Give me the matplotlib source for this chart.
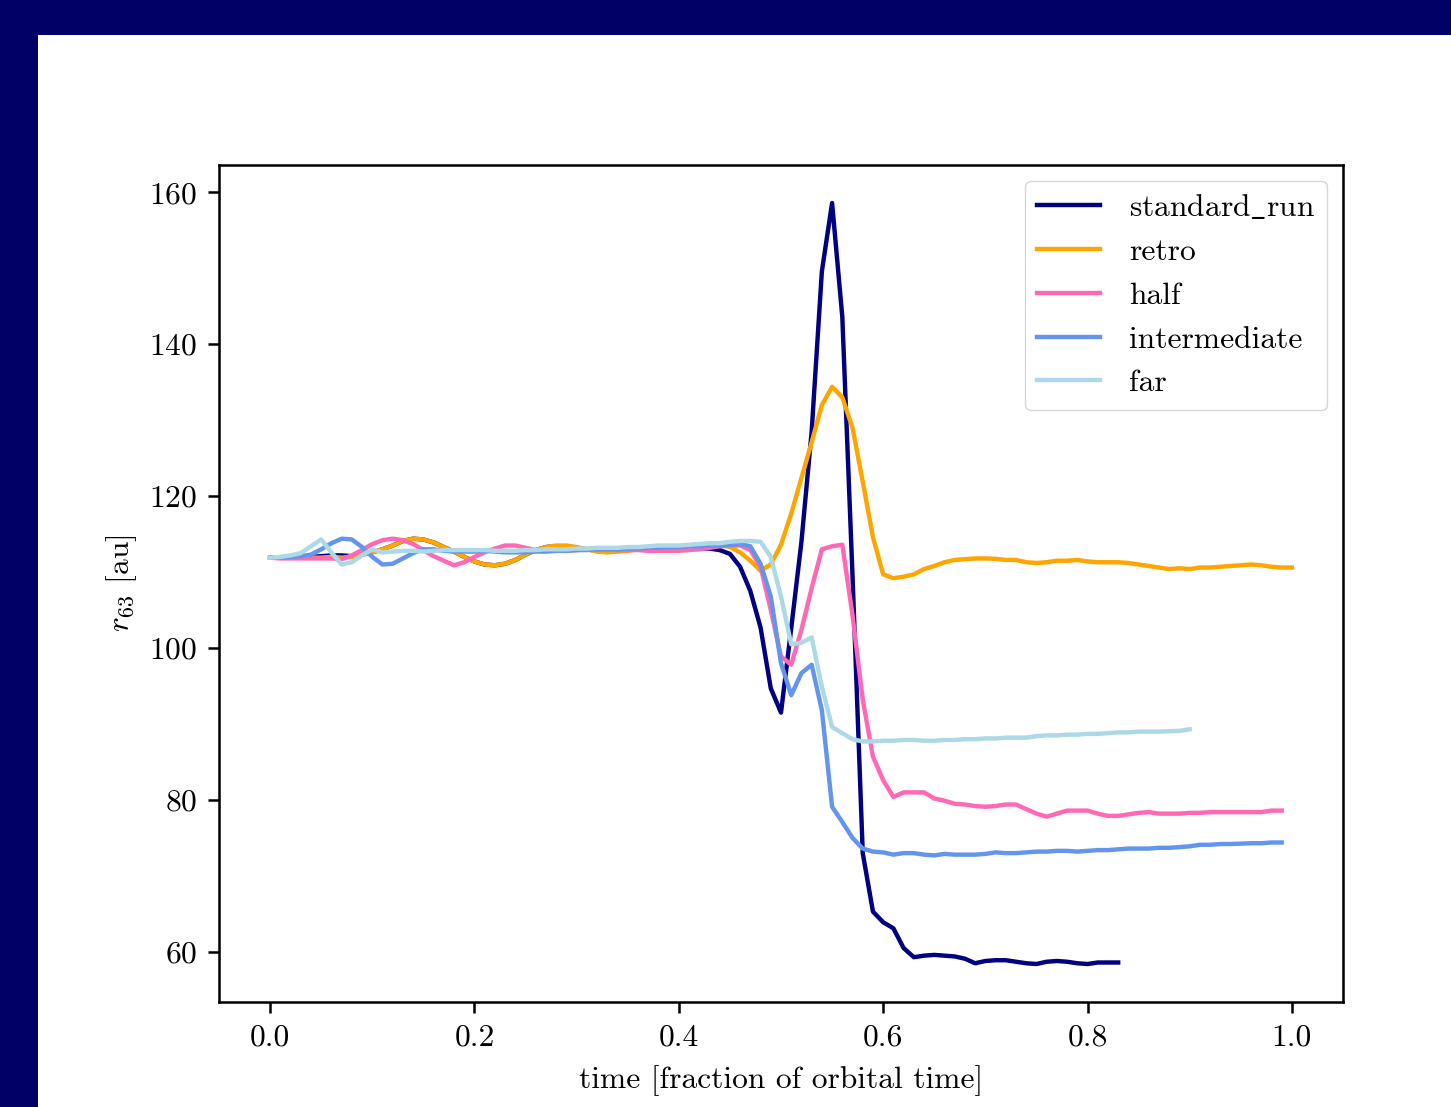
import matplotlib
matplotlib.use('Agg')
import matplotlib.pyplot as plt
from matplotlib.patches import Rectangle

# time grid, fraction of orbital time (snapshots every 0.01)
time = [0.00, 0.01, 0.02, 0.03, 0.04, 0.05, 0.06, 0.07, 0.08, 0.09,
        0.10, 0.11, 0.12, 0.13, 0.14, 0.15, 0.16, 0.17, 0.18, 0.19,
        0.20, 0.21, 0.22, 0.23, 0.24, 0.25, 0.26, 0.27, 0.28, 0.29,
        0.30, 0.31, 0.32, 0.33, 0.34, 0.35, 0.36, 0.37, 0.38, 0.39,
        0.40, 0.41, 0.42, 0.43, 0.44, 0.45, 0.46, 0.47, 0.48, 0.49,
        0.50, 0.51, 0.52, 0.53, 0.54, 0.55, 0.56, 0.57, 0.58, 0.59,
        0.60, 0.61, 0.62, 0.63, 0.64, 0.65, 0.66, 0.67, 0.68, 0.69,
        0.70, 0.71, 0.72, 0.73, 0.74, 0.75, 0.76, 0.77, 0.78, 0.79,
        0.80, 0.81, 0.82, 0.83, 0.84, 0.85, 0.86, 0.87, 0.88, 0.89,
        0.90, 0.91, 0.92, 0.93, 0.94, 0.95, 0.96, 0.97, 0.98, 0.99,
        1.00]

standard_run = [111.9, 111.9, 111.9, 111.9, 112.0, 112.1, 112.2, 112.2, 112.1, 112.3,
                112.6, 113.0, 113.5, 114.1, 114.4, 114.3, 113.9, 113.3, 112.7, 112.0,
                111.4, 111.0, 110.9, 111.1, 111.6, 112.3, 112.9, 113.3, 113.4, 113.4,
                113.2, 113.0, 112.8, 112.7, 112.8, 112.9, 113.0, 113.0, 113.0, 113.0,
                113.0, 113.1, 113.1, 113.1, 112.9, 112.4, 110.7, 107.5, 102.7, 94.7,
                91.5, 102.6, 114.0, 128.5, 149.6, 158.6, 143.6, 109.5, 73.0, 65.3,
                63.9, 63.1, 60.5, 59.3, 59.5, 59.6, 59.5, 59.4, 59.1, 58.5,
                58.8, 58.9, 58.9, 58.7, 58.5, 58.4, 58.7, 58.8, 58.7, 58.5,
                58.4, 58.6, 58.6, 58.6]

retro = [111.9, 111.9, 111.9, 111.9, 111.9, 111.9, 112.0, 111.9, 112.0, 112.3,
         112.6, 113.0, 113.5, 114.1, 114.4, 114.3, 113.9, 113.3, 112.7, 112.0,
         111.4, 111.0, 110.9, 111.1, 111.6, 112.3, 112.9, 113.3, 113.5, 113.5,
         113.3, 113.0, 112.7, 112.6, 112.7, 112.8, 113.0, 113.0, 113.0, 113.0,
         113.0, 113.1, 113.2, 113.4, 113.6, 113.3, 112.6, 111.5, 110.2, 111.0,
         113.6, 117.7, 122.4, 127.1, 132.0, 134.4, 133.0, 129.0, 121.9, 114.6,
         109.7, 109.2, 109.4, 109.7, 110.4, 110.8, 111.3, 111.6, 111.7, 111.8,
         111.8, 111.75, 111.6, 111.6, 111.3, 111.2, 111.3, 111.5, 111.5, 111.6,
         111.4, 111.3, 111.3, 111.3, 111.2, 111.0, 110.8, 110.6, 110.4, 110.5,
         110.4, 110.6, 110.6, 110.7, 110.8, 110.9, 111.0, 110.9, 110.7, 110.6,
         110.6]

half = [111.9, 111.8, 111.8, 111.8, 111.8, 111.8, 111.8, 111.7, 112.2, 112.9,
        113.7, 114.2, 114.4, 114.2, 113.7, 112.9, 112.1, 111.5, 110.9, 111.3,
        112.0, 112.6, 113.1, 113.5, 113.5, 113.2, 112.9, 112.8, 112.8, 112.8,
        112.9, 113.0, 113.0, 113.0, 112.9, 112.9, 112.9, 112.8, 112.8, 112.8,
        112.8, 112.9, 113.0, 113.2, 113.4, 113.5, 113.5, 112.9, 110.7, 105.0,
        98.9, 97.8, 102.4, 107.9, 113.0, 113.4, 113.6, 104.3, 93.2, 85.7,
        82.6, 80.4, 81.0, 81.0, 81.0, 80.2, 79.9, 79.5, 79.4, 79.2,
        79.1, 79.2, 79.4, 79.4, 78.8, 78.2, 77.8, 78.2, 78.6, 78.6,
        78.6, 78.2, 77.9, 77.9, 78.1, 78.3, 78.4, 78.2, 78.2, 78.2,
        78.3, 78.3, 78.4, 78.4, 78.4, 78.4, 78.4, 78.4, 78.6, 78.6]

intermediate = [111.9, 111.9, 112.0, 112.1, 112.3, 113.0, 113.8, 114.4, 114.3, 113.3,
                112.0, 111.0, 111.1, 111.8, 112.5, 113.0, 113.0, 112.8, 112.7, 112.7,
                112.7, 112.8, 112.7, 112.6, 112.6, 112.6, 112.7, 112.7, 112.8, 112.8,
                112.9, 112.9, 113.0, 113.0, 113.0, 113.1, 113.1, 113.2, 113.2, 113.3,
                113.3, 113.4, 113.4, 113.5, 113.55, 113.6, 113.7, 113.4, 111.1, 106.8,
                98.0, 93.8, 96.7, 97.8, 91.8, 79.1, 77.1, 75.0, 73.6, 73.2,
                73.1, 72.8, 73.0, 73.0, 72.8, 72.7, 72.9, 72.8, 72.8, 72.8,
                72.9, 73.1, 73.0, 73.0, 73.1, 73.2, 73.2, 73.3, 73.3, 73.2,
                73.3, 73.4, 73.4, 73.5, 73.6, 73.6, 73.6, 73.7, 73.7, 73.8,
                73.9, 74.1, 74.1, 74.2, 74.2, 74.25, 74.3, 74.3, 74.4, 74.4]

far = [111.9, 112.0, 112.2, 112.5, 113.4, 114.3, 112.6, 111.0, 111.3, 112.2,
       113.0, 112.6, 112.7, 112.8, 112.8, 112.7, 112.8, 112.9, 112.9, 112.9,
       112.9, 112.9, 112.8, 112.8, 112.8, 112.9, 112.9, 113.0, 113.0, 113.0,
       113.1, 113.1, 113.2, 113.2, 113.2, 113.3, 113.3, 113.4, 113.5, 113.5,
       113.5, 113.6, 113.7, 113.8, 113.8, 114.0, 114.1, 114.1, 114.0, 112.0,
       106.8, 100.5, 100.7, 101.4, 94.9, 89.6, 88.8, 88.0, 87.7, 87.7,
       87.8, 87.8, 87.9, 87.9, 87.8, 87.8, 87.9, 87.9, 88.0, 88.0,
       88.1, 88.1, 88.2, 88.2, 88.2, 88.4, 88.5, 88.5, 88.6, 88.6,
       88.7, 88.7, 88.8, 88.9, 88.9, 89.0, 89.0, 89.0, 89.05, 89.1,
       89.3]

runs = ['standard_run', 'retro', 'half', 'intermediate', 'far']
labels = [r'standard$\_$run', 'retro', 'half', 'intermediate', 'far']
colors = ['navy', 'orange', 'hotpink', 'cornflowerblue', 'lightblue']
series = [standard_run, retro, half, intermediate, far]

s = 2.266  # scale from the original 100 dpi figure
plt.rcParams['font.family'] = 'serif'
plt.rcParams['font.serif'] = ['cmr10']
plt.rcParams['mathtext.fontset'] = 'cm'
plt.rcParams['axes.formatter.use_mathtext'] = True
plt.rcParams['font.size'] = 10 * s
plt.rcParams['axes.linewidth'] = 0.8 * s
for ax_name in ['xtick', 'ytick']:
    plt.rcParams[ax_name + '.major.size'] = 3.5 * s
    plt.rcParams[ax_name + '.major.width'] = 0.8 * s
    plt.rcParams[ax_name + '.major.pad'] = 3.5 * s

W, H = 1451, 1107
fig = plt.figure(figsize=(W / 100, H / 100), dpi=100, facecolor='#000066')
# white page behind the plot, the navy frame shows on the left and top
fig.patches.append(Rectangle((38 / W, 0), 1 - 38 / W, 1 - 35 / H,
                             transform=fig.transFigure, facecolor='white',
                             edgecolor='none', zorder=-10))

ax = fig.add_axes([219 / W, 1 - 1002 / H, 1124 / W, 837 / H])
ax.set_zorder(1)

# Plot each run
for name, label, color, values in zip(runs, labels, colors, series):
    ax.plot(time[:len(values)], values, color=color, lw=1.4 * s, label=label)

ax.set_xlim(-0.05, 1.05)
ax.set_ylim(53.4, 163.6)
ax.set_xticks([0.0, 0.2, 0.4, 0.6, 0.8, 1.0])
ax.set_yticks([60, 80, 100, 120, 140, 160])
ax.set_xticklabels(['0.0', '0.2', '0.4', '0.6', '0.8', '1.0'])

ax.set_xlabel('time [fraction of orbital time]', labelpad=4 * s + 1)
ax.set_ylabel(r'$r_{63}$ [au]', labelpad=4 * s - 2)
ax.legend(loc='upper right', handletextpad=0.9, borderaxespad=0.5)

fig.savefig('out.png', dpi=100, facecolor=fig.get_facecolor())
